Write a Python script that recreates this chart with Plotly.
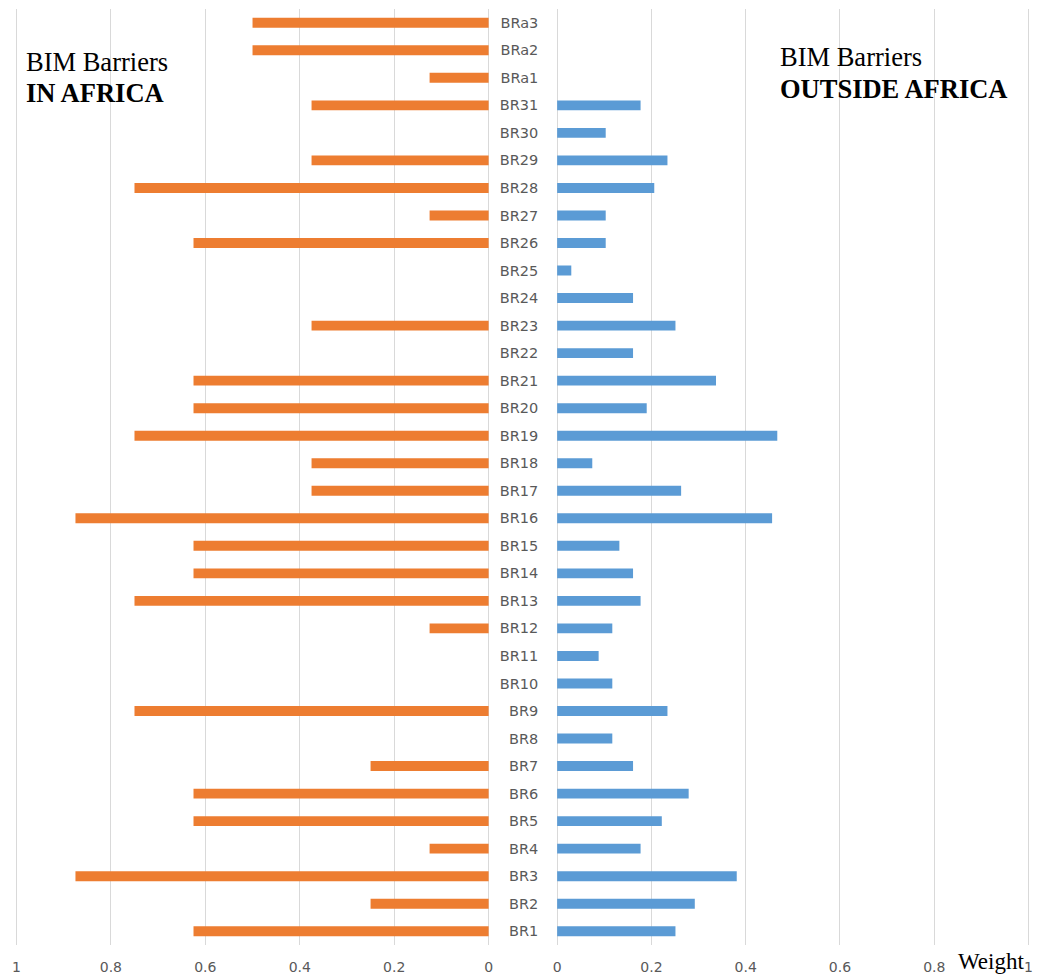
import plotly.graph_objects as go

categories = [f"BR{i}" for i in range(1, 32)] + ["BRa1", "BRa2", "BRa3"]

in_africa = [0.625, 0.25, 0.875, 0.125, 0.625, 0.625, 0.25, None, 0.75, None,
             None, 0.125, 0.75, 0.625, 0.625, 0.875, 0.375, 0.375, 0.75, 0.625,
             0.625, None, 0.375, None, None, 0.625, 0.125, 0.75, 0.375, None,
             0.375, 0.125, 0.5, 0.5]

outside_africa = [0.251, 0.292, 0.381, 0.177, 0.222, 0.279, 0.161, 0.117, 0.234, 0.117,
                  0.088, 0.117, 0.177, 0.161, 0.132, 0.456, 0.263, 0.0745, 0.467, 0.190,
                  0.337, 0.161, 0.251, 0.161, 0.030, 0.103, 0.103, 0.206, 0.234, 0.103,
                  0.177, None, None, None]

W, H = 1038, 978
top, bottom = 9, 945
EXT = 0.006  # small range padding so the edge gridlines are drawn


def px_x(x):
    return x / W


def px_y(y):
    return (bottom - y) / (bottom - top)


def domain(p_lo, p_hi):
    span = p_hi - p_lo
    pad = span * EXT
    return [px_x(p_lo - pad), px_x(p_hi + pad)]


fig = go.Figure()
fig.add_trace(go.Bar(y=categories, x=in_africa, orientation="h", xaxis="x", yaxis="y",
                     marker=dict(color="#ED7D31", line=dict(width=0)), width=0.36,
                     name="In Africa", hoverinfo="x+y"))
fig.add_trace(go.Bar(y=categories, x=outside_africa, orientation="h", xaxis="x2", yaxis="y",
                     marker=dict(color="#5B9BD5", line=dict(width=0)), width=0.36,
                     name="Outside Africa", hoverinfo="x+y"))

axis_common = dict(
    tick0=0, dtick=0.2, showgrid=True, gridcolor="#D9D9D9", gridwidth=1,
    zeroline=False, showline=False, ticks="",
    tickfont=dict(family="DejaVu Sans", size=14, color="#595959"),
    ticklabelstandoff=12, fixedrange=True,
)

fig.update_layout(
    width=W, height=H,
    margin=dict(l=0, r=0, t=top, b=H - bottom),
    paper_bgcolor="white", plot_bgcolor="white",
    showlegend=False, barmode="overlay",
    xaxis=dict(domain=domain(14.5, 488.5), range=[1 + EXT, -EXT], anchor="y", **axis_common),
    xaxis2=dict(domain=domain(557.3, 1030.5), range=[-EXT, 1 + EXT], anchor="y", **axis_common),
    yaxis=dict(type="category", categoryorder="array", categoryarray=categories,
               range=[-0.5, len(categories) - 0.5], anchor="x2", side="left",
               showgrid=False, zeroline=False, showline=False, ticks="",
               ticklabelstandoff=15, fixedrange=True,
               tickfont=dict(family="DejaVu Sans", size=14.5, color="#595959")),
)

serif = "Liberation Serif, Times New Roman, serif"
annots = [
    ("BIM Barriers", 22, 71, 26.5),
    ("<b>IN AFRICA</b>", 22, 101.7, 26.5),
    ("BIM Barriers", 778.5, 65.7, 26.5),
    ("<b>OUTSIDE AFRICA</b>", 778.5, 98.3, 26.5),
    ("Weight", 958, 969, 23),
]
for text, x, baseline, size in annots:
    fig.add_annotation(text=text, xref="paper", yref="paper",
                       x=px_x(x), y=px_y(baseline - 0.3375 * size),
                       xanchor="left", yanchor="middle", showarrow=False,
                       font=dict(family=serif, size=size, color="black"))

fig.write_html(
    "out.html",
    config={"displayModeBar": False},
    post_script="document.body.style.margin='0';document.body.style.overflow='hidden';",
)
